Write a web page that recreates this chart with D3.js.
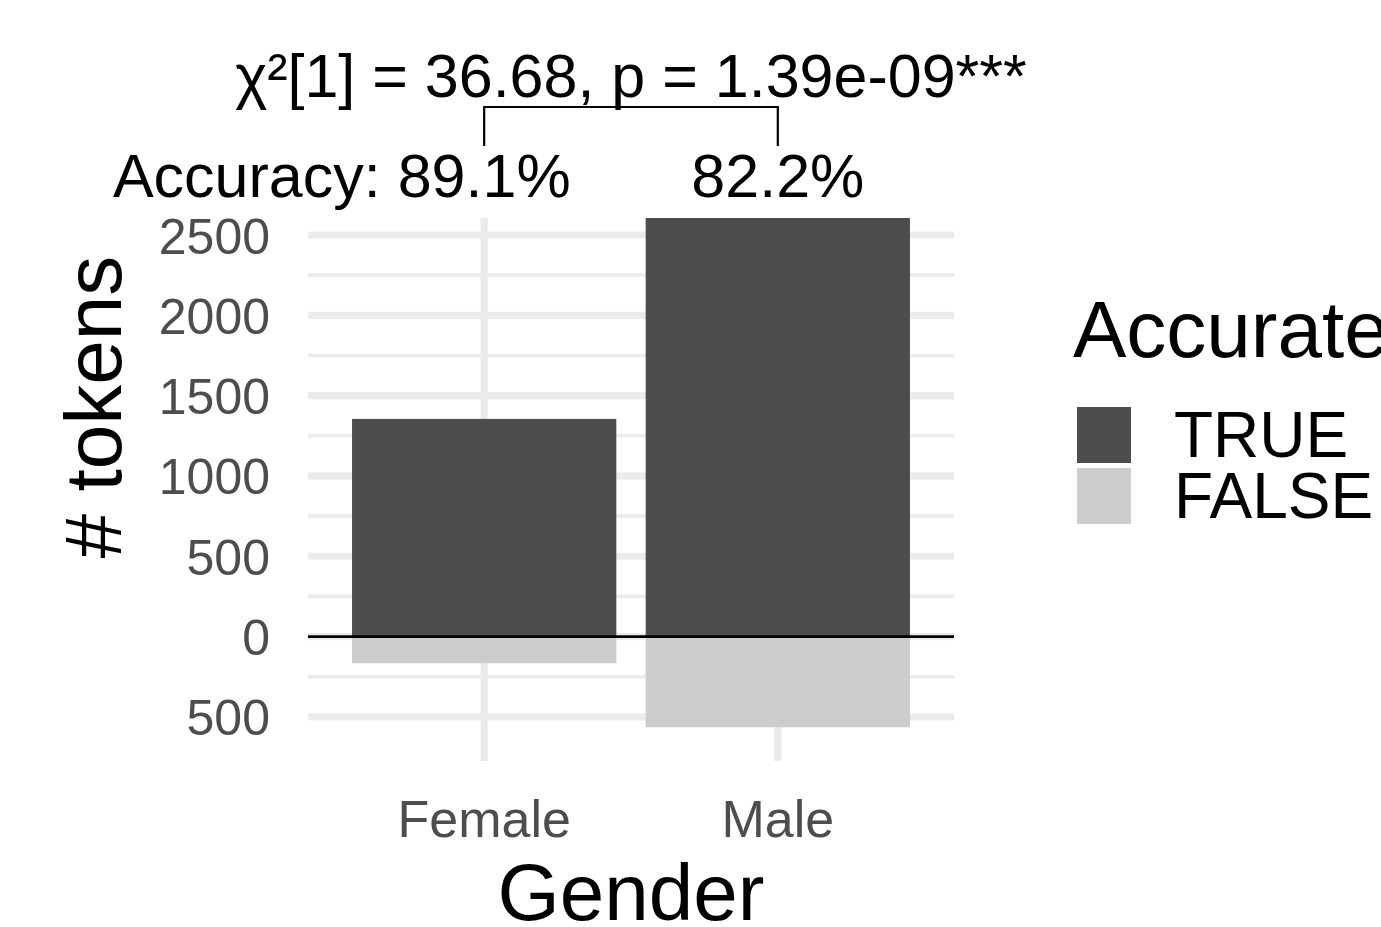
<!DOCTYPE html>
<html>
<head>
<meta charset="utf-8">
<script src="https://cdn.jsdelivr.net/npm/d3@7"></script>
<style>
  html, body { margin: 0; padding: 0; background: #ffffff; }
  svg { display: block; font-family: "Liberation Sans", Arial, Helvetica, sans-serif; }
</style>
</head>
<body>
<svg id="chart" width="1381" height="927"></svg>
<script>
// Token counts per speaker gender, split by whether the token was classified accurately
const genders = ["Female", "Male"];
const accurateCounts = [1355, 2606];
const inaccurateCounts = [166, 565];
const legendLabels = ["TRUE", "FALSE"];
const yTickValues = [-500, 0, 500, 1000, 1500, 2000, 2500];
const yMinorValues = [-250, 250, 750, 1250, 1750, 2250];
const testLabel = "χ²[1] = 36.68, p = 1.39e-09***";

const colors = { TRUE: "#4D4D4D", FALSE: "#CCCCCC" };
const grid = "#EBEBEB";

const svg = d3.select("#chart");
const W = 1381, H = 927;
svg.append("rect").attr("width", W).attr("height", H).attr("fill", "#fff");

// Panel geometry
const panel = { left: 308, right: 954, top: 218, bottom: 761 };

// Discrete axis: categories at 1..n, expanded 0.6 on each side, bars 0.9 wide
const xPos = d3.scaleLinear().domain([0.4, genders.length + 0.6]).range([panel.left, panel.right]);
const cx = g => xPos(genders.indexOf(g) + 1);
const barW = xPos(0.9) - xPos(0);

const y = d3.scaleLinear().domain([-775, 2606]).range([panel.bottom, panel.top]);

const rows = genders.map((g, i) => ({ gender: g, t: accurateCounts[i], f: inaccurateCounts[i] }));

// Grid lines
const gGrid = svg.append("g");
gGrid.selectAll("line.minor").data(yMinorValues).join("line")
  .attr("x1", panel.left).attr("x2", panel.right)
  .attr("y1", d => y(d)).attr("y2", d => y(d))
  .attr("stroke", grid).attr("stroke-width", 3.6);
gGrid.selectAll("line.major").data(yTickValues).join("line")
  .attr("x1", panel.left).attr("x2", panel.right)
  .attr("y1", d => y(d)).attr("y2", d => y(d))
  .attr("stroke", grid).attr("stroke-width", 7.2);
gGrid.selectAll("line.vx").data(genders).join("line")
  .attr("x1", d => cx(d)).attr("x2", d => cx(d))
  .attr("y1", panel.top).attr("y2", panel.bottom)
  .attr("stroke", grid).attr("stroke-width", 7.2);

// Bars: accurate tokens above zero, inaccurate tokens below
const gBars = svg.append("g");
gBars.selectAll("rect.t").data(rows).join("rect")
  .attr("x", d => cx(d.gender) - barW / 2).attr("width", barW)
  .attr("y", d => y(d.t)).attr("height", d => y(0) - y(d.t))
  .attr("fill", colors.TRUE);
gBars.selectAll("rect.f").data(rows).join("rect")
  .attr("x", d => cx(d.gender) - barW / 2).attr("width", barW)
  .attr("y", y(0)).attr("height", d => y(-d.f) - y(0))
  .attr("fill", colors.FALSE);

// Zero line
svg.append("line")
  .attr("x1", panel.left).attr("x2", panel.right)
  .attr("y1", y(0)).attr("y2", y(0))
  .attr("stroke", "#000").attr("stroke-width", 2.8);

// Y axis (labels show absolute counts)
const yAxis = d3.axisLeft(y).tickValues(yTickValues).tickSize(0).tickPadding(0)
  .tickFormat(d => String(Math.abs(d)));
const gy = svg.append("g").attr("transform", `translate(${270},0)`).call(yAxis);
gy.select(".domain").remove();
gy.selectAll("text").attr("font-size", 50).attr("fill", "#4D4D4D")
  .attr("font-family", "Liberation Sans, Arial, sans-serif").attr("dy", "0.36em");

// X axis
const gx = svg.append("g");
gx.selectAll("text").data(genders).join("text")
  .attr("x", d => cx(d)).attr("y", 837)
  .attr("text-anchor", "middle").attr("font-size", 52).attr("fill", "#4D4D4D")
  .text(d => d);

// Axis titles
svg.append("text").attr("x", (panel.left + panel.right) / 2).attr("y", 920)
  .attr("text-anchor", "middle").attr("font-size", 80).attr("fill", "#000").text("Gender");
svg.append("text").attr("transform", `translate(121,407) rotate(-90)`)
  .attr("text-anchor", "middle").attr("font-size", 80).attr("fill", "#000").text("# tokens");

// Accuracy labels above each bar
const fmt = d3.format(".1%");
const annSize = 61;
const accText = svg.append("g");
rows.forEach((d, i) => {
  const t = accText.append("text").attr("x", cx(d.gender)).attr("y", 197)
    .attr("text-anchor", "middle").attr("font-size", annSize).attr("fill", "#000")
    .text(fmt(d.t / (d.t + d.f)));
  if (i === 0) {
    const w = t.node().getComputedTextLength();
    accText.append("text").attr("x", cx(d.gender) - w / 2).attr("y", 197)
      .attr("text-anchor", "end").attr("font-size", annSize).attr("fill", "#000")
      .attr("xml:space", "preserve").text("Accuracy:\u00A0");
  }
});

// Significance bracket and test result
const bx1 = cx(genders[0]), bx2 = cx(genders[1]);
svg.append("path")
  .attr("d", `M${bx1},146 V107 H${bx2} V146`)
  .attr("fill", "none").attr("stroke", "#000").attr("stroke-width", 2.2);
svg.append("text").attr("x", (bx1 + bx2) / 2).attr("y", 97)
  .attr("text-anchor", "middle").attr("font-size", annSize).attr("fill", "#000")
  .text(testLabel);

// Legend
const lg = svg.append("g");
lg.append("text").attr("x", 1073).attr("y", 357).attr("font-size", 80).attr("fill", "#000").text("Accurate");
legendLabels.forEach((lab, i) => {
  lg.append("rect").attr("x", 1077).attr("y", 407 + i * 61).attr("width", 54).attr("height", 56)
    .attr("fill", colors[lab]);
  lg.append("text").attr("x", 1174).attr("y", 457 + i * 61)
    .attr("font-size", 64).attr("fill", "#000").text(lab);
});
</script>
</body>
</html>
